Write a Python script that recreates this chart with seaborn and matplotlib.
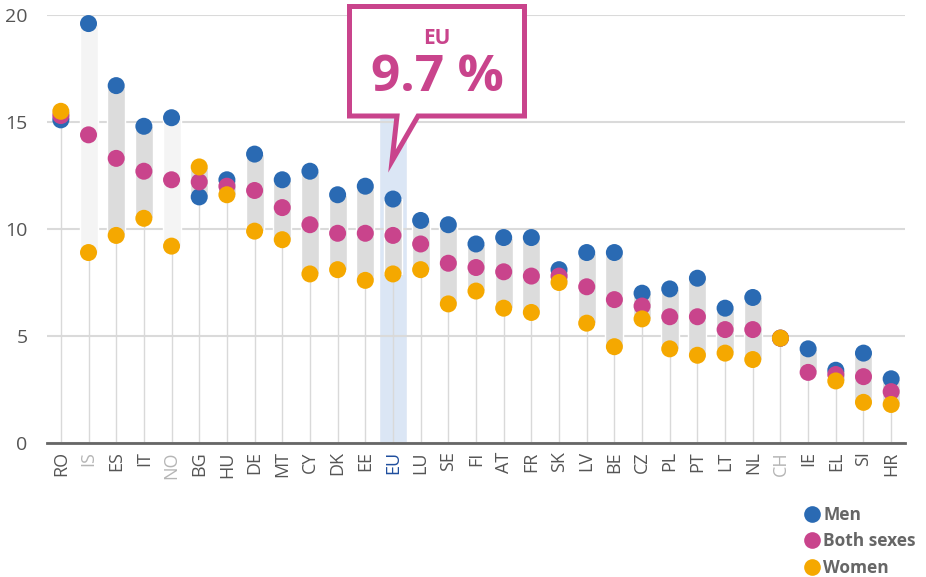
import numpy as np
import pandas as pd
import matplotlib
matplotlib.use("Agg")
import matplotlib.pyplot as plt
import seaborn as sns
from matplotlib.patches import Polygon
from matplotlib.lines import Line2D

countries = ["RO", "IS", "ES", "IT", "NO", "BG", "HU", "DE", "MT", "CY", "DK", "EE", "EU",
             "LU", "SE", "FI", "AT", "FR", "SK", "LV", "BE", "CZ", "PL", "PT", "LT", "NL",
             "CH", "IE", "EL", "SI", "HR"]
men = [15.1, 19.6, 16.7, 14.8, 15.2, 11.5, 12.3, 13.5, 12.3, 12.7, 11.6, 12.0, 11.4,
       10.4, 10.2, 9.3, 9.6, 9.6, 8.1, 8.9, 8.9, 7.0, 7.2, 7.7, 6.3, 6.8,
       4.9, 4.4, 3.4, 4.2, 3.0]
both = [15.3, 14.4, 13.3, 12.7, 12.3, 12.2, 12.0, 11.8, 11.0, 10.2, 9.8, 9.8, 9.7,
        9.3, 8.4, 8.2, 8.0, 7.8, 7.8, 7.3, 6.7, 6.4, 5.9, 5.9, 5.3, 5.3,
        4.9, 3.3, 3.2, 3.1, 2.4]
women = [15.5, 8.9, 9.7, 10.5, 9.2, 12.9, 11.6, 9.9, 9.5, 7.9, 8.1, 7.6, 7.9,
         8.1, 6.5, 7.1, 6.3, 6.1, 7.5, 5.6, 4.5, 5.8, 4.4, 4.1, 4.2, 3.9,
         4.9, np.nan, 2.9, 1.9, 1.8]
non_eu = ["IS", "NO", "CH"]
series = ["Men", "Both sexes", "Women"]
yticks = [0, 5, 10, 15, 20]
eu_label = "EU"
eu_value = "9.7 %"

C_MEN, C_BOTH, C_WOMEN = "#2a6ab3", "#c9448c", "#f5a800"
palette = {"Men": C_MEN, "Both sexes": C_BOTH, "Women": C_WOMEN}

df = pd.DataFrame({"country": countries, "Men": men, "Both sexes": both, "Women": women})
df["pos"] = np.arange(len(df))
long = df.melt(id_vars=["country", "pos"], value_vars=series,
               var_name="series", value_name="value").dropna()

W, H = 926, 577
fig = plt.figure(figsize=(W / 100, H / 100), dpi=100)
sns.set_style("white")
plt.rcParams["font.family"] = ["Open Sans", "DejaVu Sans"]
ax = fig.add_axes([47 / W, 1 - 443 / H, (905 - 47) / W, (443 - 15) / H])

lo = df[series].min(axis=1)
hi = df[series].max(axis=1)

# EU highlight column
eu_i = countries.index("EU")
ax.bar(eu_i, 15.5, width=1.0, color="#dbe6f5", zorder=0.5)

# stems
ax.vlines(df["pos"], 0, lo, color="#d9d9d9", lw=1.0, zorder=1)
# range bars
bar_cols = ["#f4f4f4" if c in non_eu else "#dcdcdc" for c in countries]
ax.bar(df["pos"], hi - lo, bottom=lo, width=0.65, color=bar_cols, zorder=1.5)

sns.scatterplot(data=long, x="pos", y="value", hue="series", hue_order=series,
                palette=palette, s=150, linewidth=0, legend=False, ax=ax,
                zorder=3, clip_on=False)

ax.set_xlim(-0.5, len(countries) - 0.5)
ax.set_ylim(0, 20)
ax.set_yticks(yticks)
ax.set_yticklabels([str(t) for t in yticks], fontsize=14, color="#555555")
ax.yaxis.grid(True, color="#dadada", lw=1.5, zorder=0)
ax.set_axisbelow(True)
ax.set_xticks(df["pos"])
ax.set_xticklabels(countries, rotation=90, fontsize=13)
for lbl, c in zip(ax.get_xticklabels(), countries):
    if c == "EU":
        lbl.set_color("#1f4e9e")
    elif c in non_eu:
        lbl.set_color("#b5b5b5")
    else:
        lbl.set_color("#555555")
ax.tick_params(axis="both", length=0)
ax.tick_params(axis="y", pad=14)
ax.tick_params(axis="x", pad=6)
for s in ["top", "right", "left"]:
    ax.spines[s].set_visible(False)
ax.spines["bottom"].set_color("#666666")
ax.spines["bottom"].set_linewidth(2)
ax.spines["bottom"].set_zorder(4)
ax.set_xlabel("")
ax.set_ylabel("")

# callout (figure pixel coordinates, top-down)
pts = [(349.5, 6.5), (524.5, 6.5), (524.5, 116), (418, 116), (392, 161), (397, 116), (349.5, 116)]
poly = Polygon([(x / W, 1 - y / H) for x, y in pts], closed=True, transform=fig.transFigure,
               facecolor="white", edgecolor=C_BOTH, lw=3.6, joinstyle="miter", zorder=10)
fig.patches.append(poly)
fig.text(437 / W, 1 - 38 / H, eu_label, ha="center", va="center", fontsize=15,
         fontweight="bold", color=C_BOTH, zorder=11)
fig.text(437 / W, 1 - 78 / H, eu_value, ha="center", va="center", fontsize=37,
         fontweight="bold", color=C_BOTH, zorder=11)

# legend
handles = [Line2D([0], [0], marker="o", ls="", markersize=12, markerfacecolor=palette[s],
                  markeredgewidth=0) for s in series]
leg = fig.legend(handles, series, loc="upper left", bbox_to_anchor=(793 / W, 1 - 497 / H),
                 frameon=False, handletextpad=0.05, labelspacing=0.5, borderpad=0,
                 handlelength=1.2, prop={"weight": "bold", "size": 12.5})
for t in leg.get_texts():
    t.set_color("#666666")

fig.savefig("out.png", dpi=100)
